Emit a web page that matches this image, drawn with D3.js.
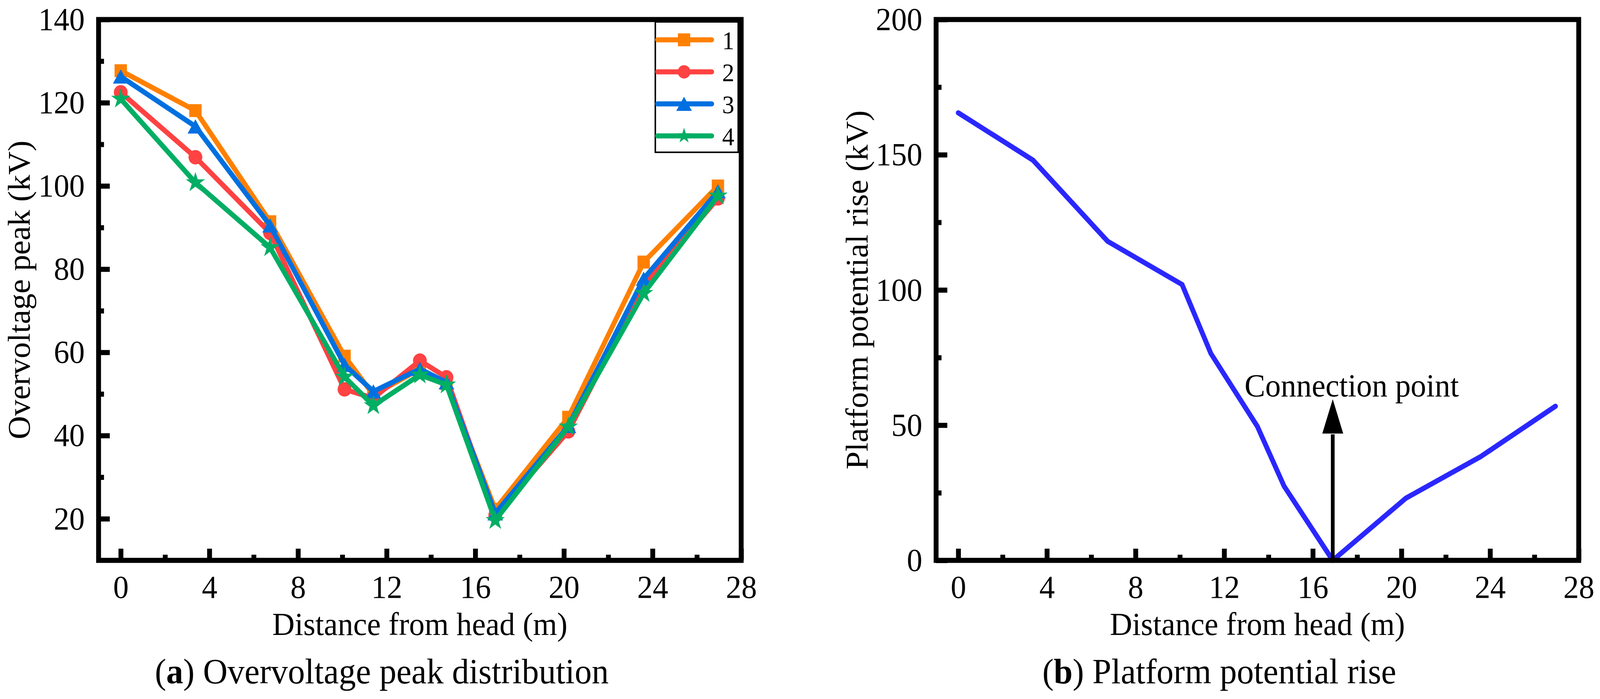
<!DOCTYPE html>
<html>
<head>
<meta charset="utf-8">
<script src="https://cdn.jsdelivr.net/npm/d3@7"></script>
<style>
  html, body { margin: 0; padding: 0; background: #ffffff; overflow: hidden; width: 100%; height: 100%; }
  svg { display: block; width: 100vw; height: 100vh; }
</style>
</head>
<body>
<svg id="chart"></svg>
<script>
const width = 4285;
const height = 1790;

// distance of the measuring points from the head (m)
const distance = [0, 3.37, 6.74, 10.1, 11.4, 13.5, 14.7, 16.9, 20.2, 23.6, 26.95];

// (a) overvoltage peak, kV
const series1 = [127.7, 118.1, 91.4, 59.1, 49.8, 56.0, 52.5, 22.3, 44.4, 81.7, 100.0];
const series2 = [122.5, 106.9, 88.7, 51.1, 49.0, 58.0, 54.0, 20.8, 41.0, 76.1, 97.0];
const series3 = [126.3, 114.3, 90.5, 57.0, 50.6, 56.0, 52.8, 21.3, 42.3, 77.7, 98.7];
const series4 = [120.9, 100.8, 85.2, 54.1, 47.2, 54.6, 52.2, 19.6, 42.1, 74.2, 97.6];
const seriesNames = ["1", "2", "3", "4"];

// (b) platform potential rise, kV
const platformRise = [165.5, 148, 118, 102, 76.5, 49.5, 27.5, 0, 23, 38.5, 57];

// ticks
const xMajor = [0, 4, 8, 12, 16, 20, 24, 28];
const xMinor = [2, 6, 10, 14, 18, 22, 26];
const yMajorA = [20, 40, 60, 80, 100, 120, 140];
const yMinorA = [30, 50, 70, 90, 110, 130];
const yMajorB = [0, 50, 100, 150, 200];
const yMinorB = [25, 75, 125, 175];

const font = "'Liberation Serif', Tinos, 'Nimbus Roman', 'Times New Roman', 'DejaVu Serif', serif";
const seriesColors = ["#FF8000", "#FF4242", "#0070E0", "#00AE64"];
const seriesSymbols = [d3.symbolSquare, d3.symbolCircle, d3.symbolTriangle, d3.symbolStar];
const symbolSizes = [1090, 1075, 763, 820];
const symbolShift = [0, 0, 6, 0];

const panelA = {left: 264, right: 1985, top: 50, bottom: 1435};
const panelB = {left: 2507, right: 4228, top: 50, bottom: 1435};

// the drawing keeps the 4285x1790 coordinates and fills the window
const svg = d3.select("#chart")
    .attr("viewBox", `0 0 ${width} ${height}`)
    .attr("preserveAspectRatio", "none")
    .style("font-family", font);

svg.append("rect")
    .attr("width", width)
    .attr("height", height)
    .attr("fill", "#ffffff");

const xA = d3.scaleLinear().domain([-1, 28]).range([panelA.left, panelA.right]);
const yA = d3.scaleLinear().domain([10, 140]).range([panelA.bottom, panelA.top]);
const xB = d3.scaleLinear().domain([-1, 28]).range([panelB.left, panelB.right]);
const yB = d3.scaleLinear().domain([0, 200]).range([panelB.bottom, panelB.top]);

//PANEL A
const seriesA = [series1, series2, series3, series4];
seriesA.forEach((values, i) => {
    const pts = distance.map((d, j) => [d, values[j]]);
    const g = svg.append("g");
    g.append("path")
        .datum(pts)
        .attr("fill", "none")
        .attr("stroke", seriesColors[i])
        .attr("stroke-width", 13)
        .attr("stroke-linejoin", "round")
        .attr("stroke-linecap", "round")
        .attr("d", d3.line().x(d => xA(d[0])).y(d => yA(d[1])));
    g.selectAll("path.marker")
        .data(pts)
        .join("path")
        .attr("class", "marker")
        .attr("transform", d => `translate(${xA(d[0])},${yA(d[1]) + symbolShift[i]})`)
        .attr("fill", seriesColors[i])
        .attr("d", d3.symbol().type(seriesSymbols[i]).size(symbolSizes[i]));
});

drawAxes(xA, yA, panelA, yMajorA, yMinorA);

// legend
const legend = svg.append("g");
legend.append("rect")
    .attr("x", 1755)
    .attr("y", 56)
    .attr("width", 222)
    .attr("height", 334)
    .attr("fill", "#ffffff")
    .attr("stroke", "#000000")
    .attr("stroke-width", 4);

const legendSizes = [1090, 920, 763, 480];
const legendItems = legend.selectAll("g.item")
    .data(seriesNames)
    .join("g")
    .attr("class", "item")
    .attr("transform", (d, i) => `translate(0,${102 + i * 82})`);

legendItems.append("line")
    .attr("x1", 1761)
    .attr("x2", 1906)
    .attr("stroke", (d, i) => seriesColors[i])
    .attr("stroke-width", 13)
    .attr("stroke-linecap", "round");

legendItems.append("path")
    .attr("transform", (d, i) => `translate(1832,${symbolShift[i]})`)
    .attr("fill", (d, i) => seriesColors[i])
    .attr("d", (d, i) => d3.symbol().type(seriesSymbols[i]).size(legendSizes[i])());

legendItems.append("text")
    .attr("x", 1934)
    .attr("y", 24)
    .attr("font-size", 65)
    .attr("fill", "#000000")
    .text(d => d);

svg.append("text")
    .attr("transform", `translate(80,${(panelA.top + panelA.bottom) / 2}) rotate(-90)`)
    .attr("text-anchor", "middle")
    .attr("font-size", 83)
    .text("Overvoltage peak (kV)");

svg.append("text")
    .attr("x", (panelA.left + panelA.right) / 2)
    .attr("y", 1626)
    .attr("text-anchor", "middle")
    .attr("font-size", 83)
    .text("Distance from head (m)");

const capA = svg.append("text")
    .attr("x", (panelA.left + panelA.right) / 2 - 102)
    .attr("y", 1750)
    .attr("text-anchor", "middle")
    .attr("font-size", 91);
capA.append("tspan").text("(");
capA.append("tspan").attr("font-weight", "bold").text("a");
capA.append("tspan").text(") Overvoltage peak distribution");

//PANEL B
svg.append("path")
    .datum(distance.map((d, j) => [d, platformRise[j]]))
    .attr("fill", "none")
    .attr("stroke", "#2A27FF")
    .attr("stroke-width", 13)
    .attr("stroke-linejoin", "round")
    .attr("stroke-linecap", "round")
    .attr("d", d3.line().x(d => xB(d[0])).y(d => yB(d[1])));

// connection point arrow
const arrowX = 16.9, arrowHeadBase = 46.9, arrowTip = 59.6;
svg.append("line")
    .attr("x1", xB(arrowX))
    .attr("x2", xB(arrowX))
    .attr("y1", yB(0))
    .attr("y2", yB(arrowHeadBase) + 2)
    .attr("stroke", "#000000")
    .attr("stroke-width", 10);
svg.append("path")
    .attr("fill", "#000000")
    .attr("d", `M${xB(arrowX)},${yB(arrowTip)} L${xB(arrowX) + 28},${yB(arrowHeadBase)} L${xB(arrowX) - 28},${yB(arrowHeadBase)} Z`);

svg.append("text")
    .attr("x", xB(12.92))
    .attr("y", yB(60.7))
    .attr("font-size", 83)
    .text("Connection point");

drawAxes(xB, yB, panelB, yMajorB, yMinorB);

svg.append("text")
    .attr("transform", `translate(2323,${(panelB.top + panelB.bottom) / 2}) rotate(-90)`)
    .attr("text-anchor", "middle")
    .attr("font-size", 83)
    .text("Platform potential rise (kV)");

svg.append("text")
    .attr("x", (panelB.left + panelB.right) / 2)
    .attr("y", 1626)
    .attr("text-anchor", "middle")
    .attr("font-size", 83)
    .text("Distance from head (m)");

const capB = svg.append("text")
    .attr("x", (panelB.left + panelB.right) / 2 - 102)
    .attr("y", 1750)
    .attr("text-anchor", "middle")
    .attr("font-size", 91);
capB.append("tspan").text("(");
capB.append("tspan").attr("font-weight", "bold").text("b");
capB.append("tspan").text(") Platform potential rise");

function drawAxes(x, y, p, yMajor, yMinor) {
    const styleAxis = g => {
        g.attr("font-family", null).attr("font-size", 83);
        g.select(".domain").remove();
        g.selectAll(".tick line").attr("stroke", "#000000").attr("stroke-width", 13);
        g.selectAll(".tick text").attr("fill", "#000000");
    };

    svg.append("g")
        .attr("transform", `translate(0,${p.bottom})`)
        .call(d3.axisBottom(x).tickValues(xMajor).tickSize(-30).tickPadding(37).tickFormat(d3.format("d")))
        .call(styleAxis);

    svg.append("g")
        .attr("transform", `translate(0,${p.bottom})`)
        .call(d3.axisBottom(x).tickValues(xMinor).tickSize(-14.5).tickFormat(""))
        .call(styleAxis);

    svg.append("g")
        .attr("transform", `translate(${p.left},0)`)
        .call(d3.axisLeft(y).tickValues(yMajor).tickSize(-30).tickPadding(37).tickFormat(d3.format("d")))
        .call(styleAxis);

    svg.append("g")
        .attr("transform", `translate(${p.left},0)`)
        .call(d3.axisLeft(y).tickValues(yMinor).tickSize(-14.5).tickFormat(""))
        .call(styleAxis);

    svg.append("rect")
        .attr("x", p.left)
        .attr("y", p.top)
        .attr("width", p.right - p.left)
        .attr("height", p.bottom - p.top)
        .attr("fill", "none")
        .attr("stroke", "#000000")
        .attr("stroke-width", 13);
}
</script>
</body>
</html>
